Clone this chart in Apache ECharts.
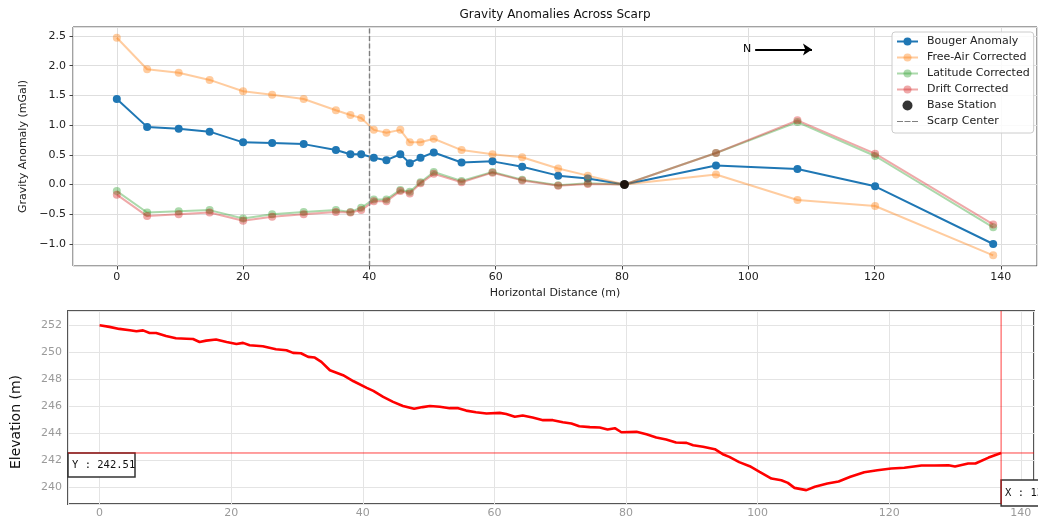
<!DOCTYPE html>
<html>
<head>
<meta charset="utf-8">
<script src="https://cdn.jsdelivr.net/npm/echarts@6.0.0/dist/echarts.min.js"></script>
<style>
  html, body { margin: 0; padding: 0; background: #fff; }
  #chart { width: 1038px; height: 522px; }
</style>
</head>
<body>
<div id="chart"></div>
<script>
// gravity stations along the profile (m)
const distances = [0, 4.8, 9.8, 14.7, 20, 24.6, 29.6, 34.7, 37, 38.7, 40.7, 42.7, 44.9, 46.4, 48.1, 50.2, 54.6, 59.5, 64.2, 69.9, 74.6, 80.4, 94.9, 107.8, 120.1, 138.8]
const bougerAnomaly = [1.44, 0.97, 0.94, 0.89, 0.71, 0.70, 0.68, 0.58, 0.51, 0.51, 0.45, 0.41, 0.51, 0.36, 0.45, 0.54, 0.37, 0.39, 0.30, 0.15, 0.10, 0.00, 0.32, 0.26, -0.03, -1.00]
const freeAirCorrected = [2.47, 1.94, 1.88, 1.76, 1.57, 1.51, 1.44, 1.25, 1.17, 1.12, 0.92, 0.87, 0.92, 0.71, 0.71, 0.77, 0.58, 0.51, 0.46, 0.27, 0.15, 0.00, 0.17, -0.26, -0.36, -1.19]
const latitudeCorrected = [-0.11, -0.47, -0.45, -0.43, -0.57, -0.50, -0.46, -0.43, -0.46, -0.39, -0.25, -0.25, -0.09, -0.12, 0.04, 0.21, 0.06, 0.21, 0.08, -0.01, 0.02, 0.00, 0.53, 1.05, 0.48, -0.72]
const driftCorrected = [-0.17, -0.53, -0.50, -0.47, -0.61, -0.54, -0.50, -0.46, -0.47, -0.43, -0.28, -0.28, -0.11, -0.15, 0.02, 0.18, 0.04, 0.20, 0.07, -0.02, 0.01, 0.00, 0.53, 1.08, 0.52, -0.67]
const baseStation = [80.4, 0]
const scarpCenter = 40
const northArrow = [[101.1, 2.27], [110.1, 2.27]]

// elevation profile
const profileDistance = [0, 1.5, 3, 4.6, 5.6, 6.6, 7.6, 8.6, 10.1, 11.6, 13.2, 14.2, 15.2, 16.2, 17.7, 19.3, 20.8, 21.8, 22.8, 24.8,
  26.8, 28.4, 29.4, 30.6, 31.7, 32.7, 33.7, 35, 37, 38.6, 40.6, 41.6, 43.1, 44.6, 46.1, 47.8, 49.1, 50.2, 51.7, 53.2,
  54.5, 55.7, 57.2, 58.8, 60.8, 61.8, 63.1, 64.3, 65.8, 67.4, 68.9, 70.4, 71.7, 72.9, 74.5, 76, 77.2, 78.3, 79.3, 81.6,
  83.1, 84.6, 86.1, 87.6, 89.2, 90.2, 91.7, 93.5, 94.7, 95.7, 97.2, 98.8, 100.3, 102.1, 103.6, 104.6, 105.6, 107.4, 108.7, 110.6,
  112.3, 114.1, 116.2, 118.2, 120.3, 122.3, 124.9, 126.9, 129, 130, 132, 133.1, 135.1, 137]
const profileElevation = [252.0, 251.88, 251.73, 251.63, 251.55, 251.62, 251.43, 251.43, 251.2, 251.03, 251.0, 250.98, 250.76, 250.86, 250.94, 250.76, 250.61, 250.69, 250.51, 250.44,
  250.22, 250.14, 249.95, 249.92, 249.65, 249.6, 249.28, 248.66, 248.29, 247.84, 247.35, 247.12, 246.68, 246.31, 246.0, 245.8, 245.92, 246.0, 245.94, 245.84,
  245.84, 245.66, 245.54, 245.44, 245.49, 245.4, 245.2, 245.29, 245.14, 244.95, 244.95, 244.8, 244.7, 244.5, 244.43, 244.4, 244.25, 244.35, 244.05, 244.08,
  243.9, 243.66, 243.51, 243.29, 243.26, 243.09, 242.97, 242.79, 242.42, 242.22, 241.83, 241.53, 241.11, 240.61, 240.49, 240.29, 239.92, 239.75, 240.0, 240.24,
  240.39, 240.74, 241.08, 241.23, 241.36, 241.41, 241.58, 241.58, 241.6, 241.51, 241.73, 241.73, 242.17, 242.51]
const cursorX = 137.0
const cursorY = 242.51

// axis extents
const topX = [-6.94, 145.74]
const topY = [-1.37, 2.65]
const botX = [-4.8, 142.0]
const botY = [238.72, 253.06]

const mplFont = 'DejaVu Sans'
const pair = arr => distances.map((d, i) => [d, arr[i]])
const dashIcon = 'path://M0,0M21,10M0,4.4H6V5.6H0ZM7.5,4.4H13.5V5.6H7.5ZM15,4.4H21V5.6H15Z'

function faded(name, rgb, values) {
  const c = 'rgba(' + rgb + ',0.4)'
  return {
    name: name,
    type: 'line',
    xAxisIndex: 0,
    yAxisIndex: 0,
    symbol: 'circle',
    symbolSize: 8,
    itemStyle: { color: c },
    lineStyle: { color: c, width: 2 },
    data: pair(values)
  }
}

// thin red cursor line in the elevation panel
function cursorLine(points) {
  return {
    type: 'line',
    xAxisIndex: 1,
    yAxisIndex: 1,
    symbol: 'none',
    silent: true,
    z: 1,
    itemStyle: { color: '#ff3030' },
    lineStyle: { color: 'rgba(255,0,0,0.75)', width: 1 },
    data: points
  }
}

const chart = echarts.init(document.getElementById('chart'))
const option = {
  animation: false,
  backgroundColor: '#fff',
  grid: [
    { left: 73, right: 1, top: 27, height: 239, show: true, borderColor: '#444', borderWidth: 1 },
    { left: 68, right: 4, top: 311, height: 193, show: true, borderColor: '#555', borderWidth: 2 }
  ],
  legend: {
    data: ['Bouger Anomaly', 'Free-Air Corrected', 'Latitude Corrected', 'Drift Corrected', 'Base Station',
      { name: 'Scarp Center', icon: dashIcon, itemStyle: { color: '#7f7f7f' } }],
    orient: 'vertical',
    left: 892,
    top: 32,
    padding: [4, 4, 6, 4],
    itemWidth: 21,
    itemHeight: 10,
    itemGap: 5,
    backgroundColor: 'rgba(255,255,255,0.85)',
    borderColor: '#cccccc',
    borderWidth: 1,
    borderRadius: 3,
    selectedMode: false,
    textStyle: { fontFamily: mplFont, fontSize: 11, color: '#222', padding: [0, 0, 0, 4] }
  },
  xAxis: [
    {
      type: 'value', gridIndex: 0, min: topX[0], max: topX[1], splitNumber: 8,
      name: 'Horizontal Distance (m)', nameLocation: 'middle', nameGap: 22,
      nameTextStyle: { fontFamily: mplFont, fontSize: 11, color: '#222' },
      axisLine: { show: false, onZero: false },
      axisTick: { show: true, length: 3.5, lineStyle: { color: '#444' } },
      axisLabel: { fontFamily: mplFont, fontSize: 11, color: '#222', margin: 6, showMinLabel: false, showMaxLabel: false },
      splitLine: { show: true, lineStyle: { color: '#dedede', width: 1 } }
    },
    {
      type: 'value', gridIndex: 1, min: botX[0], max: botX[1], splitNumber: 8,
      axisLine: { show: false, onZero: false },
      axisTick: { show: false },
      axisLabel: { fontFamily: mplFont, fontSize: 11, color: '#9a9a9a', margin: 4, showMinLabel: false, showMaxLabel: false },
      splitLine: { show: true, lineStyle: { color: '#e4e4e4', width: 1 } }
    }
  ],
  yAxis: [
    {
      type: 'value', gridIndex: 0, min: topY[0], max: topY[1], splitNumber: 8,
      name: 'Gravity Anomaly (mGal)', nameLocation: 'middle', nameGap: 37,
      nameTextStyle: { fontFamily: mplFont, fontSize: 11, color: '#222' },
      axisLine: { show: false, onZero: false },
      axisTick: { show: true, length: 3.5, lineStyle: { color: '#444' } },
      axisLabel: {
        fontFamily: mplFont, fontSize: 11, color: '#222', margin: 7, showMinLabel: false, showMaxLabel: false,
        formatter: v => (v < 0 ? '\u2212' : '') + Math.abs(v).toFixed(1)
      },
      splitLine: { show: true, lineStyle: { color: '#dedede', width: 1 } }
    },
    {
      type: 'value', gridIndex: 1, min: botY[0], max: botY[1], splitNumber: 8,
      axisLine: { show: false, onZero: false },
      axisTick: { show: false },
      axisLabel: { fontFamily: mplFont, fontSize: 11, color: '#9a9a9a', margin: 6, showMinLabel: false, showMaxLabel: false },
      splitLine: { show: true, lineStyle: { color: '#e4e4e4', width: 1 } }
    }
  ],
  series: [
    {
      name: 'Bouger Anomaly',
      type: 'line',
      xAxisIndex: 0,
      yAxisIndex: 0,
      symbol: 'circle',
      symbolSize: 8,
      itemStyle: { color: '#1f77b4' },
      lineStyle: { color: '#1f77b4', width: 2 },
      data: pair(bougerAnomaly)
    },
    faded('Free-Air Corrected', '255,127,14', freeAirCorrected),
    faded('Latitude Corrected', '44,160,44', latitudeCorrected),
    faded('Drift Corrected', '214,39,40', driftCorrected),
    {
      name: 'Base Station',
      type: 'scatter',
      xAxisIndex: 0,
      yAxisIndex: 0,
      symbol: 'circle',
      symbolSize: 9,
      z: 5,
      itemStyle: { color: '#000' },
      data: [baseStation],
      markLine: {
        silent: true,
        symbol: ['none', 'arrow'],
        symbolSize: 9,
        itemStyle: { color: '#000' },
        lineStyle: { color: '#000', width: 2, type: 'solid' },
        label: { show: true, position: 'start', formatter: 'N', fontFamily: mplFont, fontSize: 11, color: '#000', distance: 4 },
        data: [[{ coord: northArrow[0] }, { coord: northArrow[1] }]]
      }
    },
    {
      name: 'Scarp Center',
      type: 'line',
      xAxisIndex: 0,
      yAxisIndex: 0,
      symbol: 'none',
      lineStyle: { color: '#7f7f7f', width: 1.4, type: [5, 2.5] },
      itemStyle: { color: '#7f7f7f' },
      data: [],
      markLine: {
        silent: true,
        symbol: 'none',
        lineStyle: { color: '#7f7f7f', width: 1.4, type: [5, 2.5] },
        label: { show: false },
        data: [{ xAxis: scarpCenter }]
      }
    },
    cursorLine([[cursorX, botY[0]], [cursorX, botY[1]]]),
    cursorLine([[botX[0], cursorY], [botX[1], cursorY]]),
    {
      name: 'Elevation',
      type: 'line',
      xAxisIndex: 1,
      yAxisIndex: 1,
      showSymbol: false,
      symbol: 'none',
      z: 3,
      itemStyle: { color: '#ff0000' },
      lineStyle: { color: '#ff0000', width: 2.6 },
      data: profileDistance.map((d, i) => [d, profileElevation[i]])
    }
  ]
}
chart.setOption(option)

// titles and cursor read-outs, placed from the axes
const topGrid = chart.getModel().getComponent('grid', 0).coordinateSystem.getRect()
const botGrid = chart.getModel().getComponent('grid', 1).coordinateSystem.getRect()
const cur = chart.convertToPixel({ gridIndex: 1 }, [cursorX, cursorY])
const monoFont = '10.5px "DejaVu Sans Mono"'
chart.setOption({
  graphic: [
    {
      type: 'text', x: topGrid.x + topGrid.width / 2, y: 15,
      style: { text: 'Gravity Anomalies Across Scarp', font: '12px "DejaVu Sans"', fill: '#111', align: 'center', verticalAlign: 'middle' }
    },
    {
      type: 'text', x: 16, y: 422, rotation: Math.PI / 2,
      style: { text: 'Elevation (m)', font: '14px "DejaVu Sans"', fill: '#111', align: 'center', verticalAlign: 'middle' }
    },
    {
      type: 'group', x: botGrid.x, y: cur[1], z: 100,
      children: [
        { type: 'rect', shape: { x: 0, y: 0, width: 67, height: 24 }, style: { fill: '#fff', stroke: '#333', lineWidth: 1.5 } },
        { type: 'text', x: 4, y: 12, style: { text: 'Y : ' + cursorY.toFixed(2), font: monoFont, fill: '#111', verticalAlign: 'middle' } }
      ]
    },
    {
      type: 'group', x: cur[0], y: botGrid.y + botGrid.height - 24, z: 100,
      children: [
        { type: 'rect', shape: { x: 0, y: 0, width: 67, height: 26 }, style: { fill: '#fff', stroke: '#333', lineWidth: 1.5 } },
        { type: 'text', x: 4, y: 13, style: { text: 'X : ' + cursorX.toFixed(2), font: monoFont, fill: '#111', verticalAlign: 'middle' } }
      ]
    }
  ]
})

window.addEventListener('resize', () => {
  chart.resize()
})
</script>
</body>
</html>
